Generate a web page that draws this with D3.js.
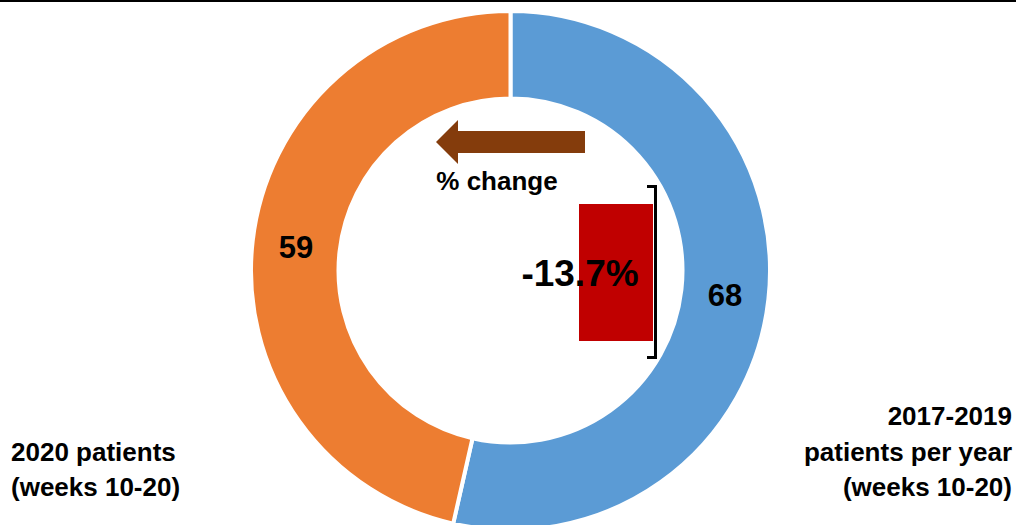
<!DOCTYPE html>
<html>
<head>
<meta charset="utf-8">
<script src="https://cdn.jsdelivr.net/npm/d3@7"></script>
<style>
  html, body { margin: 0; padding: 0; background: #fff; }
  svg { display: block; }
  text { font-family: "Liberation Sans", Arial, Helvetica, sans-serif; font-weight: bold; fill: #000; }
</style>
</head>
<body>
<svg id="chart" width="1016" height="525"></svg>
<script>
// ---- data ----
const categories = ["2017-2019 patients per year (weeks 10-20)", "2020 patients (weeks 10-20)"];
const values = [68, 59];
const sliceColors = ["#5B9BD5", "#ED7D31"];
const changeLabel = "% change";
const changeValue = "-13.7%";
const leftLabelLines = ["2020 patients", "(weeks 10-20)"];
const rightLabelLines = ["2017-2019", "patients per year", "(weeks 10-20)"];

const svg = d3.select("#chart");
const W = 1016, H = 525;

// top rule
svg.append("line").attr("x1", 0).attr("x2", W).attr("y1", 1).attr("y2", 1)
  .attr("stroke", "#000").attr("stroke-width", 2);

const cx = 510.5, cy = 270.5, rOuter = 259.5, rInner = 172;
const g = svg.append("g").attr("transform", `translate(${cx},${cy})`);

const pie = d3.pie().sort(null).value(d => d)(values);
const arc = d3.arc().innerRadius(rInner).outerRadius(rOuter);

g.selectAll("path.slice").data(pie).join("path")
  .attr("class", "slice")
  .attr("d", arc)
  .attr("fill", (d, i) => sliceColors[i])
  .attr("stroke", "#fff").attr("stroke-width", 4).attr("stroke-linejoin", "miter");

g.selectAll("text.val").data(pie).join("text")
  .attr("class", "val")
  .attr("transform", d => `translate(${arc.centroid(d)})`)
  .attr("text-anchor", "middle")
  .attr("dy", "0.36em")
  .style("font-size", "31px")
  .text(d => d.data);

// arrow
svg.append("path")
  .attr("d", "M436,142 L458,120 L458,131 L585,131 L585,153 L458,153 L458,164 Z")
  .attr("fill", "#843C0C");

svg.append("text").attr("x", 497).attr("y", 190).attr("text-anchor", "middle")
  .style("font-size", "26px").text(changeLabel);

// red box
svg.append("rect").attr("x", 579).attr("y", 204).attr("width", 74).attr("height", 137)
  .attr("fill", "#C00000");

// bracket
svg.append("path").attr("d", "M647,186.5 H655.5 V357.5 H647")
  .attr("fill", "none").attr("stroke", "#000").attr("stroke-width", 3);

svg.append("text").attr("x", 580).attr("y", 286).attr("text-anchor", "middle")
  .style("font-size", "37px").text(changeValue);

// side labels
const lt = svg.append("text").attr("text-anchor", "start").style("font-size", "26px");
leftLabelLines.forEach((s, i) => lt.append("tspan").attr("x", 11).attr("y", 461 + i * 35).text(s));

const rt = svg.append("text").attr("text-anchor", "end").style("font-size", "26px");
rightLabelLines.forEach((s, i) => rt.append("tspan").attr("x", 1012).attr("y", 425 + i * 35.5).text(s));
</script>
</body>
</html>
